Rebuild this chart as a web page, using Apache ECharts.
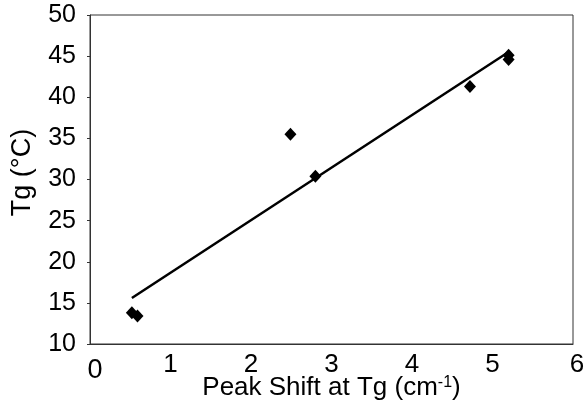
<!DOCTYPE html>
<html>
<head>
<meta charset="utf-8">
<script src="https://cdn.jsdelivr.net/npm/echarts@6/dist/echarts.min.js"></script>
<style>html,body{margin:0;padding:0;background:#fff}#c{width:587px;height:402px}</style>
</head>
<body>
<div id="c"></div>
<script>
// Measured data points (peak shift, Tg)
const shiftX = [0.52, 0.59, 2.49, 2.80, 4.72, 5.20, 5.20];
const tgY = [13.8, 13.4, 35.5, 30.4, 41.3, 44.6, 45.1];
// Linear fit line end points as drawn
const fitX = [0.52, 5.20];
const fitY = [15.6, 45.5];
const xTicks = [0, 1, 2, 3, 4, 5, 6];
const yTicks = [10, 15, 20, 25, 30, 35, 40, 45, 50];

const chart = echarts.init(document.getElementById('c'));
const font = 'Liberation Sans, Arial, sans-serif';
chart.setOption({
  animation: false,
  backgroundColor: '#fff',
  grid: { left: 90, right: 14, top: 15, bottom: 58, outerBoundsMode: 'none', containLabel: false,
          show: true, borderColor: '#333', borderWidth: 1 },
  xAxis: {
    type: 'value', min: xTicks[0], max: xTicks[xTicks.length - 1], interval: 1,
    axisLine: { show: true, lineStyle: { color: '#333', width: 1 } },
    axisTick: { show: false },
    splitLine: { show: false },
    axisLabel: {
      color: '#000', fontFamily: font, fontSize: 26, margin: 8,
      formatter: v => v === xTicks[0] ? '{first|' + v + '}' : (v === xTicks[xTicks.length - 1] ? '{last|' + v + '}' : String(v)),
      rich: {
        first: { fontFamily: font, fontSize: 27, color: '#000', padding: [5, 0, 0, 10] },
        last: { fontFamily: font, fontSize: 26, color: '#000', padding: [0, 0, 0, 8] }
      }
    },
    name: 'Peak Shift at Tg (cm{sup|-1})',
    nameLocation: 'middle', nameGap: 31, nameMoveOverlap: false,
    nameTextStyle: {
      color: '#000', fontFamily: font, fontSize: 26,
      rich: { sup: { fontSize: 16, fontFamily: font, color: '#000', verticalAlign: 'top', lineHeight: 24 } }
    }
  },
  yAxis: {
    type: 'value', min: yTicks[0], max: yTicks[yTicks.length - 1], interval: 5,
    axisLine: { show: true, lineStyle: { color: '#333', width: 1 } },
    axisTick: { show: true, length: 3, lineStyle: { color: '#333' } },
    splitLine: { show: false },
    axisLabel: { color: '#000', fontFamily: font, fontSize: 25, margin: 14 },
    name: 'Tg (°C)', nameLocation: 'middle', nameGap: 54, nameRotate: 90, nameMoveOverlap: false,
    nameTextStyle: { color: '#000', fontFamily: font, fontSize: 27, padding: [0, 0, 0, 14] }
  },
  series: [
    {
      type: 'line', data: fitX.map((x, i) => [x, fitY[i]]),
      symbol: 'none', lineStyle: { color: '#000', width: 2.5 }, z: 2
    },
    {
      type: 'scatter', data: shiftX.map((x, i) => [x, tgY[i]]),
      symbol: 'diamond', symbolSize: [12, 13],
      itemStyle: { color: '#000', opacity: 1 }, z: 3
    }
  ]
});
</script>
</body>
</html>
